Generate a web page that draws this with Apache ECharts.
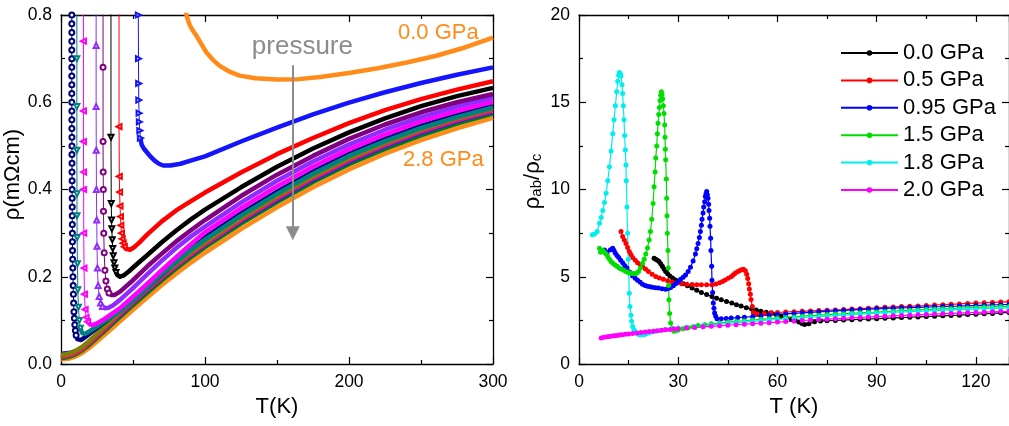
<!DOCTYPE html>
<html>
<head>
<meta charset="utf-8">
<script src="https://cdn.jsdelivr.net/npm/echarts@6/dist/echarts.min.js"></script>
<style>html,body{margin:0;padding:0;background:#fff}#c{width:1009px;height:426px}</style>
</head>
<body>
<div id="c"></div>
<script>
// ---------------- Left panel: rho(T), [T (K), rho (mOhm cm)] ----------------
const rhoOrangeTop = [[86,0.82],[87.5,0.795],[89.5,0.776],[92,0.762],[94.5,0.75],[97.5,0.733],[101,0.714],[105,0.699],[110,0.684],[117,0.67],[124,0.661],[135,0.655],[150,0.652],[165,0.653],[180,0.658],[200,0.667],[220,0.678],[240,0.691],[260,0.706],[280,0.725],[300,0.748]];
const rhoBlueUp = [[53.7,0.85],[53.7,0.8],[53.8,0.7],[53.9,0.643],[54,0.605],[54.2,0.575],[54.4,0.555],[54.7,0.535],[55.1,0.518]];
const rhoBlue = [[55.1,0.518],[56,0.503],[57.5,0.494],[59.5,0.486],[62,0.476],[65,0.466],[68,0.459],[71,0.455],[76,0.455],[83,0.459],[90,0.466],[100,0.476],[125,0.51],[150,0.542],[175,0.572],[200,0.599],[225,0.623],[250,0.644],[275,0.663],[300,0.68]];
const rhoRedUp = [[40.3,0.85],[40.3,0.544],[40.5,0.43],[40.7,0.394],[41,0.362],[41.3,0.338],[41.6,0.318],[42,0.3],[42.5,0.287],[43.2,0.277],[44,0.269]];
const rhoRed = [[44,0.269],[45,0.264],[46.3,0.261],[48,0.262],[50.5,0.267],[54,0.277],[60,0.297],[70,0.327],[80,0.352],[90,0.373],[100,0.393],[125,0.439],[150,0.481],[175,0.518],[200,0.552],[225,0.582],[250,0.607],[275,0.629],[300,0.648]];
const rhoBlackUp = [[34.7,0.85],[34.7,0.52],[34.9,0.368],[35.1,0.33],[35.3,0.31],[35.6,0.285],[35.9,0.265],[36.3,0.248],[36.8,0.232],[37.4,0.22],[38.2,0.21]];
const rhoBlack = [[38.2,0.21],[39.5,0.203],[41,0.2],[43.5,0.203],[47,0.212],[52,0.227],[60,0.25],[70,0.279],[80,0.306],[90,0.331],[100,0.354],[125,0.405],[150,0.452],[175,0.494],[200,0.531],[225,0.563],[250,0.591],[275,0.614],[300,0.633]];
const rhoDPurpleUp = [[29.2,0.85],[29.2,0.68],[29.2,0.51],[29.3,0.44],[29.4,0.4],[29.5,0.35],[29.7,0.3],[30,0.255],[30.5,0.215],[31.2,0.19],[32.2,0.172],[33.3,0.163]];
const rhoDPurple = [[33.3,0.163],[35,0.158],[37,0.158],[41,0.166],[50,0.192],[60,0.224],[70,0.253],[80,0.281],[90,0.306],[100,0.33],[125,0.385],[150,0.434],[175,0.477],[200,0.516],[225,0.549],[250,0.577],[275,0.6],[300,0.619]];
const rhoVioletUp = [[24.4,0.85],[24.4,0.73],[24.4,0.59],[24.5,0.49],[24.6,0.4],[24.8,0.33],[25,0.27],[25.3,0.22],[25.8,0.18],[26.5,0.155],[27.5,0.14],[28.8,0.132]];
const rhoViolet = [[28.8,0.132],[30.5,0.128],[33,0.129],[36,0.134],[41,0.147],[50,0.174],[60,0.206],[70,0.237],[80,0.266],[90,0.292],[100,0.315],[125,0.37],[150,0.42],[175,0.464],[200,0.503],[225,0.537],[250,0.566],[275,0.59],[300,0.611]];
const rhoMagentaUp = [[15.6,0.85],[15.6,0.74],[15.6,0.58],[15.6,0.51],[15.7,0.44],[15.7,0.4],[15.8,0.3],[16,0.22],[16.3,0.16],[16.8,0.125],[17.5,0.107],[18.5,0.097]];
const rhoMagenta = [[18.5,0.097],[20,0.091],[22,0.089],[25,0.093],[30,0.103],[41,0.128],[50,0.154],[60,0.184],[70,0.215],[80,0.245],[90,0.274],[100,0.302],[125,0.357],[150,0.407],[175,0.452],[200,0.492],[225,0.526],[250,0.556],[275,0.58],[300,0.601]];
const rhoTealUp = [[11,0.85],[11,0.7],[11,0.59],[11,0.49],[11.1,0.39],[11.1,0.34],[11.2,0.29],[11.4,0.23],[11.7,0.17],[12.1,0.13],[12.7,0.1],[13.5,0.082]];
const rhoTeal = [[13.5,0.082],[14.7,0.071],[16.5,0.069],[19.3,0.074],[25,0.086],[30,0.097],[41,0.121],[50,0.146],[60,0.176],[70,0.206],[80,0.234],[90,0.261],[100,0.285],[125,0.34],[150,0.39],[175,0.436],[200,0.477],[225,0.511],[250,0.541],[275,0.566],[300,0.588]];
const rhoNavyUp = [[7.5,0.85],[7.5,0.8],[7.5,0.78],[7.5,0.76],[7.5,0.74],[7.5,0.72],[7.5,0.7],[7.5,0.68],[7.5,0.66],[7.5,0.64],[7.5,0.62],[7.5,0.6],[7.55,0.58],[7.55,0.56],[7.55,0.54],[7.6,0.52],[7.6,0.5],[7.6,0.48],[7.65,0.46],[7.65,0.44],[7.7,0.42],[7.7,0.4],[7.75,0.38],[7.8,0.36],[7.8,0.34],[7.85,0.32],[7.9,0.3],[7.95,0.28],[8,0.26],[8.1,0.24],[8.2,0.22],[8.3,0.2],[8.45,0.18],[8.6,0.16],[8.8,0.14],[9,0.12],[9.3,0.105],[9.6,0.09],[10,0.077],[10.5,0.066]];
const rhoNavy = [[10.5,0.066],[11.3,0.057],[12.3,0.053],[14,0.055],[17,0.062],[20,0.07],[30,0.095],[41,0.123],[50,0.147],[60,0.176],[70,0.205],[80,0.235],[90,0.263],[100,0.29],[125,0.345],[150,0.395],[175,0.441],[200,0.482],[225,0.516],[250,0.546],[275,0.571],[300,0.592]];
const rhoOlive = [[0,0.02],[5,0.023],[10,0.03],[15,0.04],[20,0.054],[30,0.085],[40,0.117],[50,0.147],[60,0.176],[70,0.204],[80,0.231],[90,0.256],[100,0.28],[125,0.335],[150,0.385],[175,0.431],[200,0.472],[225,0.507],[250,0.538],[275,0.564],[300,0.586]];
const rhoCrimson = [[0,0.016],[5,0.019],[10,0.025],[15,0.035],[20,0.049],[30,0.08],[40,0.112],[50,0.142],[60,0.171],[70,0.199],[80,0.226],[90,0.251],[100,0.275],[125,0.33],[150,0.38],[175,0.426],[200,0.467],[225,0.502],[250,0.533],[275,0.559],[300,0.581]];
const rhoBlue2 = [[1,0.024],[5,0.025],[10,0.029],[15,0.037],[20,0.049],[30,0.079],[40,0.11],[50,0.14],[60,0.169],[70,0.197],[80,0.224],[90,0.249],[100,0.273],[125,0.327],[150,0.376],[175,0.422],[200,0.463],[225,0.498],[250,0.529],[275,0.556],[300,0.578]];
const rhoGreen = [[0,0.013],[5,0.016],[10,0.022],[15,0.032],[20,0.045],[30,0.075],[40,0.105],[50,0.135],[60,0.164],[70,0.192],[80,0.219],[90,0.244],[100,0.268],[125,0.322],[150,0.371],[175,0.417],[200,0.458],[225,0.493],[250,0.524],[275,0.551],[300,0.574]];
const rhoOrange28 = [[0,0.01],[5,0.012],[10,0.017],[15,0.026],[20,0.038],[30,0.066],[40,0.095],[50,0.124],[60,0.153],[70,0.181],[80,0.207],[90,0.232],[100,0.255],[125,0.309],[150,0.359],[175,0.405],[200,0.446],[225,0.482],[250,0.513],[275,0.54],[300,0.564]];

// arrow (T, rho from, rho to) and annotations
const arrowT = 161, arrowFrom = 0.685, arrowTo = 0.3;
const annoText = ['0.0 GPa', 'pressure', '2.8 GPa'];
const annoT = [234, 132.5, 237.5];
const annoRho = [0.76, 0.727, 0.468];

// ---------------- Right panel: rho_ab/rho_c vs T ----------------
const ratioNames = ['0.0 GPa','0.5 GPa','0.95 GPa','1.5 GPa','1.8 GPa','2.0 GPa'];
const rc00 = [[22.7,6.06],[23.2,6.0],[23.7,5.95],[24.2,5.87],[24.7,5.75],[25.2,5.6],[25.7,5.45],[26.2,5.3],[26.8,5.17],[27.5,5.05],[28.3,4.93],[29.2,4.82],[30.3,4.71],[31.5,4.6],[32.8,4.48],[34.2,4.35],[35.6,4.22],[37,4.1],[38.6,3.98],[40.2,3.87],[41.6,3.77],[43,3.68],[44.6,3.58],[46.2,3.49],[47.6,3.4],[49,3.32],[50.6,3.23],[52.2,3.15],[53.6,3.09],[55,3.03],[56.6,2.97],[58.2,2.92],[59.6,2.84],[61,2.75],[62.6,2.66],[64.2,2.56],[65.4,2.48],[66.5,2.4],[67.4,2.32],[68.2,2.26],[69.5,2.3],[71.2,2.42],[73,2.46],[75,2.48],[77.5,2.5],[80,2.52],[82.5,2.54],[85,2.56],[87.5,2.58],[90,2.6],[92.5,2.62],[95,2.64],[97.5,2.66],[100,2.68],[102.5,2.7],[105,2.72],[107.5,2.74],[110,2.76],[112.5,2.78],[115,2.8],[117.5,2.83],[120,2.85],[122.5,2.88],[125,2.9],[127.5,2.93],[130,2.95]];
const rc05 = [[12.7,7.59],[13.2,7.3],[13.7,7.1],[14.2,6.9],[14.7,6.67],[15.2,6.45],[15.7,6.27],[16.2,6.1],[17,5.95],[17.7,5.8],[18.5,5.7],[19.2,5.59],[20.1,5.44],[21,5.3],[22.1,5.15],[23.2,5.01],[24.3,4.93],[25.5,4.85],[26.8,4.77],[28.2,4.7],[29.6,4.65],[31,4.6],[32.6,4.57],[34.2,4.55],[35.6,4.54],[37,4.54],[38.6,4.54],[40.2,4.54],[41.4,4.58],[42.5,4.65],[43.4,4.73],[44.2,4.82],[45.1,4.91],[46,5.0],[46.6,5.1],[47.2,5.2],[47.9,5.28],[48.5,5.35],[49.1,5.4],[49.7,5.43],[50.3,5.35],[50.7,5.15],[51,4.9],[51.3,4.6],[51.5,4.3],[51.8,4.0],[52,3.7],[52.4,3.3],[52.7,2.95],[53.3,2.88],[54,2.85],[56,2.9],[58,2.93],[60,2.95],[62.5,2.98],[65,3.0],[67.5,3.02],[70,3.04],[72.5,3.06],[75,3.08],[77.5,3.1],[80,3.12],[82.5,3.15],[85,3.17],[87.5,3.2],[90,3.22],[92.5,3.25],[95,3.27],[97.5,3.29],[100,3.31],[102.5,3.33],[105,3.35],[107.5,3.38],[110,3.4],[112.5,3.42],[115,3.44],[117.5,3.47],[120,3.49],[122.5,3.51],[125,3.53],[127.5,3.55],[130,3.57]];
const rc095 = [[7.7,6.54],[8.5,6.4],[9.5,6.55],[10.2,6.63],[10.6,6.5],[11,6.35],[11.5,6.22],[12,6.1],[12.6,5.95],[13.2,5.8],[13.8,5.65],[14.5,5.5],[15.3,5.27],[16.2,5.05],[17,4.92],[17.7,4.8],[18.5,4.68],[19.2,4.57],[20,4.5],[20.7,4.45],[21.5,4.42],[22.2,4.4],[23.1,4.37],[24,4.35],[25.1,4.31],[26.2,4.28],[27,4.32],[27.7,4.38],[28.5,4.48],[29.2,4.6],[30,4.72],[30.7,4.85],[31.5,4.97],[32.2,5.1],[33,5.3],[33.7,5.55],[34.5,5.9],[35.2,6.3],[35.6,6.6],[36,6.9],[36.4,7.25],[36.7,7.6],[37,7.95],[37.2,8.3],[37.5,8.65],[37.7,9.0],[38,9.3],[38.2,9.6],[38.4,9.75],[38.6,9.88],[38.8,9.7],[39,9.5],[39.2,9.15],[39.3,8.8],[39.5,8.35],[39.6,7.9],[39.8,7.2],[39.9,6.5],[40.1,5.6],[40.2,4.8],[40.4,4.1],[40.6,3.5],[40.8,3.2],[41,2.92],[41.3,2.75],[41.7,2.6],[43,2.6],[44.5,2.61],[46,2.63],[48,2.66],[50,2.68],[52.5,2.72],[55,2.76],[57.5,2.8],[60,2.83],[62.5,2.87],[65,2.9],[67.5,2.93],[70,2.96],[72.5,2.99],[75,3.02],[77.5,3.05],[80,3.07],[82.5,3.1],[85,3.12],[87.5,3.14],[90,3.16],[92.5,3.18],[95,3.2],[97.5,3.22],[100,3.23],[102.5,3.25],[105,3.26],[107.5,3.28],[110,3.29],[112.5,3.31],[115,3.32],[117.5,3.34],[120,3.35],[122.5,3.37],[125,3.38],[127.5,3.4],[130,3.41]];
const rc15 = [[6.2,6.63],[6.5,6.4],[7.2,6.5],[7.7,6.4],[8.2,6.3],[8.7,6.15],[9.2,6.0],[9.7,5.88],[10.2,5.78],[10.9,5.68],[11.5,5.6],[12.1,5.52],[12.7,5.45],[13.5,5.37],[14.2,5.3],[14.9,5.24],[15.5,5.2],[16.1,5.18],[16.7,5.17],[17.4,5.2],[18,5.3],[18.6,5.5],[19.2,5.78],[19.7,6.0],[20.2,6.3],[20.7,6.65],[21.2,7.1],[21.6,7.6],[22,8.3],[22.4,9.2],[22.7,10.16],[23,11.0],[23.2,11.8],[23.5,12.5],[23.7,13.2],[23.9,13.8],[24.1,14.3],[24.3,14.7],[24.5,15.1],[24.7,15.4],[24.9,15.6],[25.1,15.45],[25.3,15.2],[25.5,14.8],[25.7,14.36],[25.9,13.7],[26,13.0],[26.1,12.3],[26.2,11.7],[26.4,10.6],[26.5,9.5],[26.6,8.5],[26.7,7.5],[26.9,6.5],[27,5.5],[27.1,4.5],[27.2,3.68],[27.4,2.9],[27.7,2.35],[28.2,2.05],[28.7,1.87],[29.3,1.9],[30,1.95],[31.5,2.02],[33,2.08],[34.5,2.14],[36,2.2],[38,2.25],[40,2.3],[42.5,2.35],[45,2.4],[47.5,2.44],[50,2.48],[52.5,2.52],[55,2.56],[57.5,2.6],[60,2.63],[62.5,2.67],[65,2.7],[67.5,2.74],[70,2.77],[72.5,2.8],[75,2.83],[77.5,2.86],[80,2.88],[82.5,2.91],[85,2.93],[87.5,2.96],[90,2.98],[92.5,3.01],[95,3.03],[97.5,3.06],[100,3.08],[102.5,3.1],[105,3.12],[107.5,3.14],[110,3.16],[112.5,3.18],[115,3.2],[117.5,3.22],[120,3.24],[122.5,3.26],[125,3.27],[127.5,3.29],[130,3.3]];
const rc18 = [[4,7.4],[4.7,7.45],[5.5,7.6],[6.2,8.06],[6.7,8.4],[7.2,8.8],[7.7,9.25],[8.2,9.78],[8.7,10.5],[9.2,11.3],[9.7,12.2],[10.2,13.2],[10.6,14.0],[11,14.8],[11.4,15.6],[11.7,16.2],[12,16.55],[12.2,16.7],[12.5,16.65],[12.7,16.5],[13,16.0],[13.2,15.5],[13.4,14.8],[13.6,14.0],[13.8,13.1],[14,12.26],[14.2,11.4],[14.3,10.5],[14.5,9.0],[14.7,7.5],[14.9,6.0],[15.2,4.06],[15.4,3.3],[15.7,2.8],[15.9,2.45],[16.2,2.15],[16.6,1.97],[17,1.85],[17.6,1.75],[18.2,1.68],[19,1.66],[19.7,1.68],[20.3,1.73],[21,1.78],[22,1.83],[23,1.87],[24.5,1.92],[26,1.97],[28,2.02],[30,2.06],[32.5,2.11],[35,2.15],[37.5,2.19],[40,2.23],[42.5,2.28],[45,2.32],[47.5,2.36],[50,2.4],[52.5,2.44],[55,2.48],[57.5,2.52],[60,2.55],[62.5,2.59],[65,2.62],[67.5,2.65],[70,2.68],[72.5,2.71],[75,2.74],[77.5,2.77],[80,2.8],[82.5,2.83],[85,2.86],[87.5,2.89],[90,2.91],[92.5,2.93],[95,2.95],[97.5,2.98],[100,3.0],[102.5,3.02],[105,3.04],[107.5,3.06],[110,3.08],[112.5,3.1],[115,3.12],[117.5,3.14],[120,3.15],[122.5,3.17],[125,3.18],[127.5,3.2],[130,3.21]];
const rc20 = [[6.7,1.49],[7.5,1.53],[8.5,1.56],[9.2,1.58],[10,1.6],[10.7,1.62],[11.5,1.64],[12.2,1.66],[13,1.67],[14,1.7],[15,1.72],[16.2,1.75],[17.5,1.78],[18.7,1.81],[20,1.83],[21.2,1.86],[22.5,1.88],[23.7,1.91],[25,1.93],[26.2,1.96],[27.5,1.98],[28.7,2.0],[30,2.02],[32.5,2.06],[35,2.09],[37.5,2.13],[40,2.16],[42.5,2.19],[45,2.22],[47.5,2.25],[50,2.28],[52.5,2.31],[55,2.34],[57.5,2.37],[60,2.4],[62.5,2.43],[65,2.46],[67.5,2.49],[70,2.52],[72.5,2.55],[75,2.57],[77.5,2.6],[80,2.62],[82.5,2.65],[85,2.67],[87.5,2.7],[90,2.72],[92.5,2.74],[95,2.76],[97.5,2.78],[100,2.8],[102.5,2.82],[105,2.84],[107.5,2.86],[110,2.88],[112.5,2.9],[115,2.92],[117.5,2.94],[120,2.95],[122.5,2.97],[125,2.99],[127.5,3.01],[130,3.02]];

// ---------------- styling ----------------
const FONT = "'Liberation Sans', Arial, sans-serif";
const ORANGE = '#ff8c1a', GRAY = '#8c8c8c';
const leftCurves = [
  {main: rhoOrange28, color: ORANGE},
  {main: rhoGreen, color: '#008000'},
  {main: rhoBlue2, color: '#2a2ad0'},
  {main: rhoCrimson, color: '#e8186e'},
  {main: rhoOlive, color: '#808000'},
  {up: rhoNavyUp, main: rhoNavy, color: '#00007a', sym: 'emptyCircle', rot: 0},
  {up: rhoTealUp, main: rhoTeal, color: '#008080', sym: 'emptyTriangle', rot: 180},
  {up: rhoMagentaUp, main: rhoMagenta, color: '#ff00ff', sym: 'emptyTriangle', rot: 90},
  {up: rhoVioletUp, main: rhoViolet, color: '#8f2cff', sym: 'emptyTriangle', rot: 0},
  {up: rhoDPurpleUp, main: rhoDPurple, color: '#800080', sym: 'emptyCircle', rot: 0},
  {up: rhoBlackUp, main: rhoBlack, color: '#000000', sym: 'emptyTriangle', rot: 180},
  {up: rhoRedUp, main: rhoRed, color: '#ff0000', sym: 'emptyTriangle', rot: 90},
  {up: rhoBlueUp, main: rhoBlue, color: '#1414ff', sym: 'emptyTriangle', rot: -90},
  {main: rhoOrangeTop, color: ORANGE}
];
const ratioData = [rc00, rc05, rc095, rc15, rc18, rc20];
const ratioColors = ['#000000', '#ff0000', '#0000ff', '#00dd00', '#00eeee', '#ff00ff'];

function axis(o) {
  const show = o.labels !== false;
  return Object.assign({
    type: 'value',
    axisLine: {show: true, onZero: false, lineStyle: {color: '#000', width: 1.3}},
    axisTick: {show: true, inside: true, length: 7, lineStyle: {color: '#000', width: 1.2}},
    minorTick: {show: true, splitNumber: 2, length: 4, lineStyle: {color: '#000', width: 1.2}},
    axisLabel: {show: show, fontSize: 17.5, color: '#000', fontFamily: FONT, margin: 9},
    splitLine: {show: false}, minorSplitLine: {show: false}
  }, o.extra);
}

const xAxes = [
  axis({extra: {gridIndex: 0, min: 0, max: 300, interval: 100, position: 'bottom', name: 'T(K)', nameLocation: 'middle', nameGap: 30,
    nameTextStyle: {fontSize: 22, color: '#000', fontFamily: FONT}}}),
  axis({labels: false, extra: {gridIndex: 0, min: 0, max: 300, interval: 100, position: 'top'}}),
  axis({extra: {gridIndex: 1, min: 0, max: 130, interval: 30, position: 'bottom', name: 'T (K)', nameLocation: 'middle', nameGap: 30,
    nameTextStyle: {fontSize: 22, color: '#000', fontFamily: FONT}}}),
  axis({labels: false, extra: {gridIndex: 1, min: 0, max: 130, interval: 30, position: 'top'}})
];
xAxes[2].axisLabel.showMaxLabel = false;
const yAxes = [
  axis({extra: {gridIndex: 0, min: 0, max: 0.8, interval: 0.2, position: 'left', name: 'ρ(mΩcm)', nameLocation: 'middle', nameGap: 30,
    nameTextStyle: {fontSize: 22, color: '#000', fontFamily: FONT, padding: [0, 0, 0, 30]}}}),
  axis({labels: false, extra: {gridIndex: 0, min: 0, max: 0.8, interval: 0.2, position: 'right'}}),
  axis({extra: {gridIndex: 1, min: 0, max: 20, interval: 5, position: 'left', name: '{r|ρ}{s|ab}{r|/ρ}{s|c}', nameLocation: 'middle', nameGap: 35,
    nameTextStyle: {color: '#000', fontFamily: FONT, padding: [0, 0, 0, 16],
      rich: {r: {fontSize: 22, lineHeight: 22, verticalAlign: 'top', fontFamily: FONT, color: '#000'},
             s: {fontSize: 15, lineHeight: 15, verticalAlign: 'bottom', padding: [12, 0, 0, 0], fontFamily: FONT, color: '#000'}}}}}),
  axis({labels: false, extra: {gridIndex: 1, min: 0, max: 20, interval: 5, position: 'right'}})
];
yAxes[0].axisLabel.formatter = v => v.toFixed(1);

const series = [];
leftCurves.forEach(c => {
  if (c.up) {
    series.push({type: 'line', xAxisIndex: 0, yAxisIndex: 0, data: c.up, showSymbol: true, symbol: c.sym, symbolRotate: c.rot,
      symbolSize: 5, lineStyle: {width: 1, color: c.color}, itemStyle: {color: c.color, borderWidth: 1}, silent: true});
  }
  series.push({type: 'line', xAxisIndex: 0, yAxisIndex: 0, data: c.main, showSymbol: false, smooth: false,
    lineStyle: {width: 4.5, color: c.color, join: 'round'}, silent: true});
});
series.push({type: 'lines', coordinateSystem: 'cartesian2d', xAxisIndex: 0, yAxisIndex: 0, silent: true,
  data: [{coords: [[arrowT, arrowFrom], [arrowT, arrowTo]]}], symbol: ['none', 'triangle'], symbolSize: 14,
  lineStyle: {color: GRAY, width: 2, opacity: 1}, itemStyle: {color: GRAY}, z: 5});
ratioData.forEach((d, i) => {
  series.push({type: 'line', name: ratioNames[i], xAxisIndex: 2, yAxisIndex: 2, data: d, showSymbol: true, symbol: 'circle',
    symbolSize: 5, lineStyle: {width: 1.2, color: ratioColors[i]}, itemStyle: {color: ratioColors[i]}, silent: true});
});

const chart = echarts.init(document.getElementById('c'), null, {renderer: 'canvas'});
chart.setOption({
  animation: false,
  backgroundColor: '#fff',
  textStyle: {fontFamily: FONT},
  grid: [
    {left: 61, top: 15, width: 432, height: 349},
    {left: 579, top: 15, width: 432, height: 349}
  ],
  xAxis: xAxes,
  yAxis: yAxes,
  legend: {data: ratioNames, orient: 'vertical', left: 835, top: 37, itemWidth: 57, itemHeight: 7, itemGap: 5.4,
    textStyle: {fontSize: 22, color: '#000', fontFamily: FONT}, selectedMode: false},
  series: series
});

const graphics = annoText.map((t, i) => {
  const p = chart.convertToPixel({xAxisIndex: 0, yAxisIndex: 0}, [annoT[i], annoRho[i]]);
  return {type: 'text', x: p[0], y: p[1], style: {text: t, fontSize: i === 1 ? 26 : 22, fontFamily: FONT,
    fill: i === 1 ? GRAY : ORANGE, textAlign: 'left', textVerticalAlign: 'middle'}};
});
chart.setOption({graphic: graphics});
</script>
</body>
</html>
